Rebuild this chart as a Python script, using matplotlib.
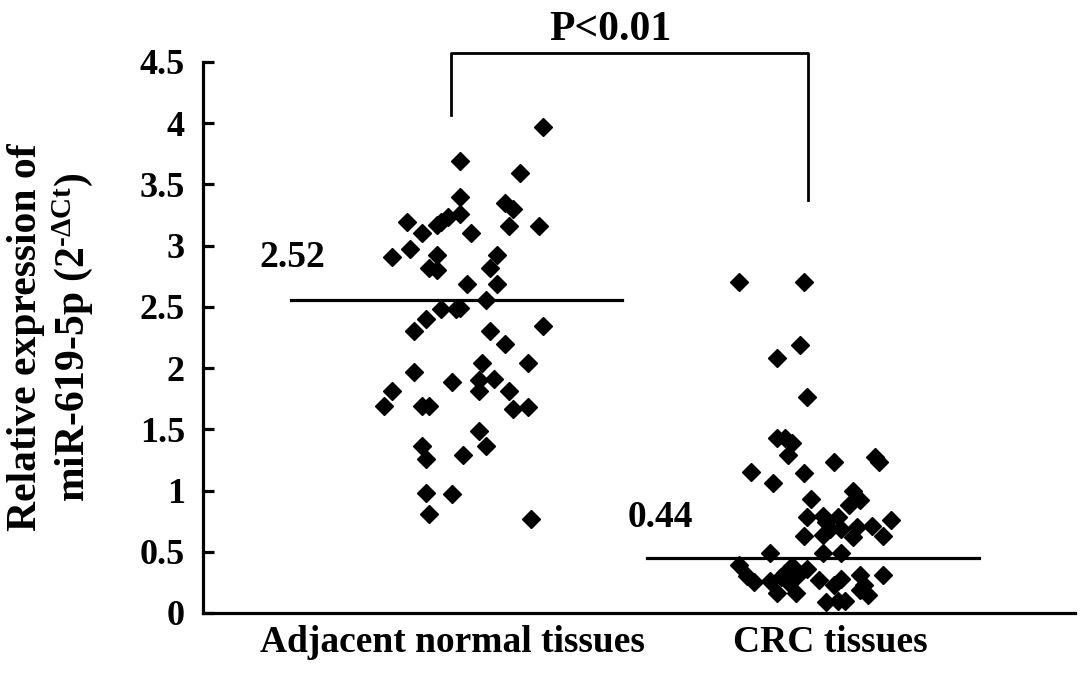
import numpy as np
import matplotlib
matplotlib.use('Agg')
import matplotlib.pyplot as plt

plt.rcParams['font.family'] = 'Liberation Serif'
plt.rcParams['font.weight'] = 'bold'
plt.rcParams['mathtext.fontset'] = 'custom'
plt.rcParams['mathtext.rm'] = 'Liberation Serif'
plt.rcParams['mathtext.it'] = 'Liberation Serif:italic'
plt.rcParams['mathtext.bf'] = 'Liberation Serif:bold'

categories = ['Adjacent normal tissues', 'CRC tissues']

# adjacent normal tissues (x = jittered position around group 1)
normal_x = [1.24, 1.02, 1.18, 1.02, 1.14, 1.16, 1.02, 0.88, 0.96, 0.97, 0.99,
            0.92, 1.05, 1.15, 1.23, 0.84, 0.89, 0.96, 1.12, 0.94, 0.96, 1.10,
            1.04, 1.12, 1.09, 0.97, 1.01, 1.02, 0.93, 0.90, 1.10, 1.24, 1.14,
            1.08, 1.20, 0.90, 1.00, 1.07, 1.07, 1.11, 1.15, 0.84, 0.82, 0.92,
            0.94, 1.16, 1.20, 1.07, 1.09, 0.92, 0.93, 1.03, 0.93, 1.00, 0.94,
            1.21]
normal_y = [3.97, 3.69, 3.59, 3.40, 3.35, 3.30, 3.26, 3.19, 3.17, 3.19, 3.23,
            3.10, 3.10, 3.16, 3.16, 2.91, 2.97, 2.92, 2.92, 2.82, 2.80, 2.82,
            2.69, 2.69, 2.56, 2.48, 2.48, 2.49, 2.40, 2.30, 2.30, 2.34, 2.20,
            2.04, 2.04, 1.97, 1.89, 1.90, 1.81, 1.91, 1.81, 1.81, 1.69, 1.69,
            1.69, 1.67, 1.68, 1.49, 1.36, 1.36, 1.26, 1.29, 0.98, 0.97, 0.81,
            0.77]

# CRC tissues
crc_x = [1.76, 1.93, 1.86, 1.92, 1.94, 1.86, 1.88, 1.90, 1.89, 1.79, 1.85,
         1.93, 2.01, 2.12, 2.13, 1.95, 2.06, 2.08, 2.05, 1.94, 1.98, 2.02,
         1.99, 2.00, 2.03, 2.07, 2.11, 2.16, 2.14, 1.93, 1.98, 2.06, 1.84,
         1.98, 2.03, 1.76, 1.78, 1.80, 1.84, 1.87, 1.88, 1.90, 1.91, 1.94,
         1.89, 1.97, 2.01, 2.03, 2.08, 2.09, 2.14, 1.86, 1.91, 1.99, 2.02,
         2.04, 2.08, 2.10]
crc_y = [2.70, 2.70, 2.08, 2.19, 1.76, 1.43, 1.43, 1.39, 1.29, 1.15, 1.06,
         1.14, 1.23, 1.27, 1.23, 0.93, 1.00, 0.92, 0.88, 0.78, 0.79, 0.78,
         0.74, 0.69, 0.69, 0.70, 0.71, 0.76, 0.63, 0.63, 0.64, 0.62, 0.49,
         0.49, 0.49, 0.39, 0.30, 0.25, 0.26, 0.29, 0.33, 0.38, 0.29, 0.36,
         0.25, 0.27, 0.23, 0.28, 0.31, 0.23, 0.31, 0.16, 0.16, 0.09, 0.10,
         0.10, 0.19, 0.15]

mean_labels = ['2.52', '0.44']
mean_levels = [2.557, 0.449]

fig = plt.figure(figsize=(10.87, 6.9), dpi=100)
ax = fig.add_axes([0.1868, 0.1116, 0.8022, 0.7986])

ax.plot(normal_x, normal_y, 'D', color='black', markersize=9.5, clip_on=False)
ax.plot(crc_x, crc_y, 'D', color='black', markersize=9.5, clip_on=False)

# mean lines
ax.plot([0.574, 1.450], [mean_levels[0]] * 2, color='black', lw=2.3)
ax.plot([1.516, 2.394], [mean_levels[1]] * 2, color='black', lw=2.3)
ax.text(0.577, 2.90, mean_labels[0], ha='center', va='center', fontsize=27, fontweight='bold')
ax.text(1.550, 0.776, mean_labels[1], ha='center', va='center', fontsize=27, fontweight='bold')

# significance bracket
ax.plot([0.997, 0.997, 1.942, 1.942], [4.07, 4.575, 4.575, 3.37],
        color='black', lw=2.0, clip_on=False)
ax.text(1.418, 4.76, 'P<0.01', ha='center', va='center', fontsize=30,
        fontweight='bold', clip_on=False)

ax.set_xlim(0.3413, 2.648)
ax.set_ylim(0, 4.5)
ax.set_yticks(np.arange(0, 4.51, 0.5))
ax.set_yticklabels(['0', '0.5', '1', '1.5', '2', '2.5', '3', '3.5', '4', '4.5'])
ax.set_xticks([1, 2])
ax.set_xticklabels(categories)

for s in ['top', 'right']:
    ax.spines[s].set_visible(False)
for s in ['left', 'bottom']:
    ax.spines[s].set_linewidth(2.3)

ax.tick_params(axis='y', direction='in', length=8, width=2.3, labelsize=26, pad=13)
ax.tick_params(axis='x', length=0, labelsize=27, pad=9)

ax.set_ylabel('Relative expression of\nmiR-619-5p (2$^{\\text{-}\\Delta \\mathrm{Ct}}$)',
              fontsize=30, fontweight='bold', linespacing=1.15, labelpad=32)

fig.savefig('out.png', dpi=100)
